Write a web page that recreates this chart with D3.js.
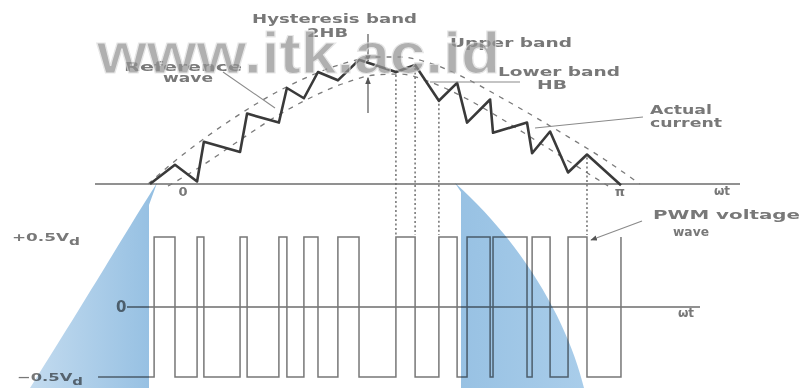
<!DOCTYPE html>
<html><head><meta charset="utf-8">
<script src="https://cdn.jsdelivr.net/npm/d3@7"></script>
<style>html,body{margin:0;padding:0;background:#fff;overflow:hidden}svg{display:block}</style>
</head><body>
<script>
// ---------- data ----------
const tickAngles = [0, 180];
const tickLabels = ["0", "π"];
const voltageLevels = [0.5, 0, -0.5];
const voltageLabels = ["+0.5V", "0", "−0.5V"];
const waveStart = -35;
const startLevel = -0.5;
const switchAngles = [-11.9,-3.3,5.8,8.6,23.5,26.4,39.5,42.8,49.8,55.6,63.8,72.5,87.7,95.6,105.4,112.9,117.0,126.5,127.7,141.7,143.8,151.2,158.6,166.4,180.4];
const currentTheta = [-13.6,-3.3,5.8,8.6,23.5,26.4,39.5,42.8,49.8,55.6,63.8,72.5,87.7,95.6,105.4,112.9,117.0,126.5,127.7,141.7,143.8,151.2,158.6,166.4,180.4];
const currentValue = [0,0.15,0.02,0.33,0.25,0.55,0.48,0.75,0.67,0.875,0.81,0.97,0.875,0.93,0.65,0.79,0.48,0.66,0.40,0.48,0.24,0.41,0.09,0.23,-0.01];
const upperTheta = [-14.4,-3.3,9.1,23.5,37.9,52.3,66.7,79.1,89.4,101.7,116.2,130.6,145.0,159.4,173.8,188.2];
const upperValue = [0,0.18,0.36,0.547,0.711,0.844,0.945,0.992,0.992,0.945,0.828,0.68,0.523,0.36,0.19,0];
const lowerTheta = [-6.2,7.0,23.5,37.9,52.3,66.7,79.1,89.4,101.7,116.2,130.6,145.0,159.4,175.1];
const lowerValue = [-0.016,0.133,0.344,0.523,0.672,0.789,0.852,0.859,0.797,0.672,0.516,0.344,0.172,-0.016];
const dottedTheta = [87.7, 95.6, 105.4, 166.4];
const hbTheta = 76.2, hbTop = 0.96, hbBottom = 0.83;

// ---------- layout ----------
const W = 803, H = 388;
const x = d3.scaleLinear().domain([0, 180]).range([183, 620]);
const yi = d3.scaleLinear().domain([0, 1]).range([184, 56]);
const yv = d3.scaleLinear().domain([-0.5, 0.5]).range([377, 237]);
const ink = "#6d6d6d", font = "'DejaVu Sans', Verdana, sans-serif";

const svg = d3.select("body").append("svg").attr("width", W).attr("height", H);
const defs = svg.append("defs");
defs.append("marker").attr("id","ah").attr("viewBox","0 0 10 10").attr("refX",9).attr("refY",5)
  .attr("markerWidth",6).attr("markerHeight",6).attr("orient","auto-start-reverse")
  .append("path").attr("d","M0,1 L10,5 L0,9 Z").attr("fill","#555");
const g1 = defs.append("linearGradient").attr("id","gl").attr("x1",0).attr("x2",1).attr("y1",0).attr("y2",0);
g1.append("stop").attr("offset",0).attr("stop-color","#c3dbef");
g1.append("stop").attr("offset",1).attr("stop-color","#94bfe2");
const g2 = defs.append("linearGradient").attr("id","gr").attr("x1",0).attr("x2",1).attr("y1",0).attr("y2",0);
g2.append("stop").attr("offset",0).attr("stop-color","#97c1e3");
g2.append("stop").attr("offset",1).attr("stop-color","#a9cdea");

// axes
svg.append("line").attr("x1",95).attr("x2",740).attr("y1",yi(0)).attr("y2",yi(0)).attr("stroke",ink).attr("stroke-width",1.3);
svg.append("line").attr("x1",127).attr("x2",700).attr("y1",yv(0)).attr("y2",yv(0)).attr("stroke",ink).attr("stroke-width",1.6);

// bands
const bandLine = d3.line().curve(d3.curveMonotoneX);
svg.append("path").attr("d", bandLine(upperTheta.map((t,i)=>[x(t), yi(upperValue[i])])))
  .attr("fill","none").attr("stroke","#7a7a7a").attr("stroke-width",1.3).attr("stroke-dasharray","5,6");
svg.append("path").attr("d", bandLine(lowerTheta.map((t,i)=>[x(t), yi(lowerValue[i])])))
  .attr("fill","none").attr("stroke","#7a7a7a").attr("stroke-width",1.3).attr("stroke-dasharray","5,6");

// dotted verticals
dottedTheta.forEach(t => {
  const k = currentTheta.indexOf(t);
  svg.append("line").attr("x1",x(t)).attr("x2",x(t)).attr("y1",yi(currentValue[k])+3).attr("y2",yv(0.5)-2)
    .attr("stroke","#666").attr("stroke-width",1.4).attr("stroke-dasharray","2,2.5");
});

// voltage wave
const vpts = [[waveStart, startLevel]];
let lev = startLevel;
switchAngles.forEach(a => { vpts.push([a, lev]); lev = -lev; vpts.push([a, lev]); });
svg.append("path").attr("d", d3.line().x(d=>x(d[0])).y(d=>yv(d[1]))(vpts))
  .attr("fill","none").attr("stroke","#777").attr("stroke-width",1.5).attr("stroke-linejoin","miter");

// actual current
svg.append("path").attr("d", d3.line()(currentTheta.map((t,i)=>[x(t), yi(currentValue[i])])))
  .attr("fill","none").attr("stroke","#3a3a3a").attr("stroke-width",2.6).attr("stroke-linejoin","round");

// hysteresis arrows
svg.append("line").attr("x1",x(hbTheta)).attr("x2",x(hbTheta)).attr("y1",34).attr("y2",yi(hbTop))
  .attr("stroke","#555").attr("stroke-width",1.2).attr("marker-end","url(#ah)");
svg.append("line").attr("x1",x(hbTheta)).attr("x2",x(hbTheta)).attr("y1",113).attr("y2",yi(hbBottom))
  .attr("stroke","#555").attr("stroke-width",1.2).attr("marker-end","url(#ah)");

// leaders
const leader = (x1,y1,x2,y2,arrow) => {
  const l = svg.append("line").attr("x1",x1).attr("y1",y1).attr("x2",x2).attr("y2",y2)
    .attr("stroke","#8a8a8a").attr("stroke-width",1.1);
  if (arrow) l.attr("marker-end","url(#ah)");
};
leader(223,72, x(37.9), yi(0.594));
leader(643,117, x(145), yi(0.4375));
leader(642,221, x(166.4)+4, yv(0.5)+3, true);
leader(430,82, 520,82);

// texts
const txt = (s, x0, y0, len, opt={}) => {
  const t = svg.append("text").attr("x",x0).attr("y",y0).text(s)
    .attr("font-family",font).attr("font-size",opt.size||12).attr("font-weight",opt.weight||"bold")
    .attr("fill",opt.fill||"#787878").attr("text-anchor",opt.anchor||"start");
  if (len) t.attr("textLength",len).attr("lengthAdjust","spacingAndGlyphs");
  return t;
};
txt("Hysteresis band",252,23,165);
txt("2HB",307,37,41);
txt("Reference",124,71,118);
txt("wave",163,82,50);
txt("Upper band",450,47,122);
txt("Lower band",498,76,122);
txt("HB",537,89,30);
txt("Actual",650,114,62);
txt("current",650,127,72);
txt("PWM voltage",653,219,147);
txt("wave",673,236,36,{size:13});
tickAngles.forEach((a,i)=> txt(tickLabels[i], x(a), yi(0)+12, null, {anchor:"middle", size:13}));
txt("ωt",722,195,null,{anchor:"middle",size:12});
txt("ωt",686,317,null,{anchor:"middle",size:12});

// voltage labels
const vl = [[12,yv(voltageLevels[0])+4,68],[116,yv(voltageLevels[1])+5,null],[17,yv(voltageLevels[2])+4,66]];
voltageLabels.forEach((s,i)=>{
  const t = txt(s, vl[i][0], vl[i][1], vl[i][2], {size: i===1?15:11});
  if (i !== 1) t.append("tspan").attr("dy",4).attr("font-size",10).text("d");
});

// watermark
svg.append("text").attr("x",97).attr("y",73).text("www.itk.ac.id")
  .attr("font-family","'Liberation Sans', Arial, sans-serif").attr("font-weight","bold").attr("font-size",58)
  .attr("textLength",403).attr("lengthAdjust","spacingAndGlyphs")
  .attr("fill","#939393").attr("stroke","#dedede").attr("stroke-width",1.2).attr("opacity",0.72);

// blue logo wedges
const blue = svg.append("g").style("mix-blend-mode","multiply");
blue.append("path").attr("d","M157,183 C130,225 95,285 30,388 L149,388 L149,205 Z").attr("fill","url(#gl)");
blue.append("path").attr("d","M455,183 L461,192 L461,388 L584,388 C570,330 530,250 455,183 Z").attr("fill","url(#gr)");
</script>
</body></html>
